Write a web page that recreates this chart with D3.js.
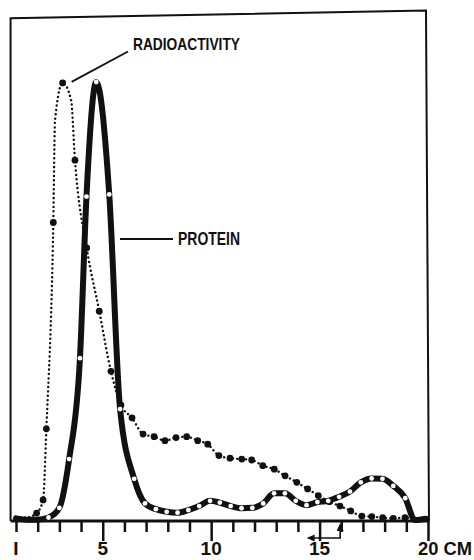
<!DOCTYPE html>
<html>
<head>
<meta charset="utf-8">
<script src="https://cdn.jsdelivr.net/npm/d3@7"></script>
<style>
  html, body { margin: 0; padding: 0; background: #fff; }
  svg { display: block; }
  text { font-family: "Liberation Sans Narrow", "Liberation Sans", sans-serif; font-weight: bold; fill: #111; }
</style>
</head>
<body>
<div id="chart"></div>
<script>
// distance along the column (cm) and relative amounts (peak = 100)
var proteinCm = [1.0, 1.5, 1.95, 2.5, 3.0, 3.45, 3.95, 4.25, 4.7, 5.3, 5.8, 6.45, 6.95, 7.45, 7.95, 8.45,
  8.95, 9.45, 9.95, 10.4, 10.9, 11.4, 11.9, 12.4, 12.9, 13.4, 13.9, 14.4, 14.9, 15.4, 15.9, 16.4,
  16.9, 17.4, 17.9, 18.4, 18.95, 19.4, 19.9];
var proteinValues = [0.6, 0.3, 0.3, 0.8, 3.0, 14.1, 37.1, 73.9, 100, 74.4, 25.5, 9.6, 4.0, 2.7, 2.1, 1.9,
  2.5, 3.4, 4.6, 4.2, 3.4, 2.9, 3.0, 4.0, 6.3, 6.3, 4.6, 3.6, 4.3, 4.6, 5.5, 6.7,
  8.8, 9.7, 9.6, 8.0, 5.2, 0.2, 0.5];
var proteinUnmarked = [0, 1, 2, 37, 38];

var radioCm = [1.0, 1.5, 1.95, 2.25, 2.4, 2.72, 2.8, 3.15, 3.54, 3.72, 4.26, 4.84, 5.38, 5.84, 6.35, 6.86, 7.37,
  7.87, 8.38, 8.87, 9.38, 9.84, 10.36, 10.87, 11.41, 11.87, 12.38, 12.91, 13.41, 13.95, 14.45,
  14.94, 15.45, 15.94, 16.44, 16.95, 17.41, 17.91, 18.4, 18.94, 19.3];
var radioValues = [0.8, 0.8, 1.8, 4.8, 21, 68, 91.3, 99.8, 95.9, 82.2, 62.2, 47.8, 34.1, 26.4, 23.5, 19.8, 19.2,
  18.3, 19.0, 19.2, 18.3, 17.5, 14.9, 14.3, 14.1, 13.9, 12.6, 11.8, 10.3, 8.8, 7.3,
  5.8, 4.4, 3.4, 2.3, 1.1, 1.0, 0.75, 0.6, 0.75, 0.5];
var radioUnmarked = [0, 1, 6, 8, 40];

var tickCm = d3.range(1, 21);
var labelCm = [1, 5, 10, 15, 20];

var width = 474, height = 560;

var svg = d3.select("#chart").append("svg")
  .attr("width", width).attr("height", height);

var x = d3.scaleLinear().domain([1, 20]).range([16, 428]);
var y = d3.scaleLinear().domain([0, 100]).range([521, 82]);

var protein = proteinCm.map(function (d, i) { return [d, proteinValues[i]]; });
var radio = radioCm.map(function (d, i) { return [d, radioValues[i]]; });

// frame (slightly skewed, like the scanned original)
svg.append("path")
  .attr("d", "M" + x(0.75) + "," + y(0) + "L" + x(0.75) + "," + y(114.5) +
    "L" + (x(20) - 2) + "," + y(116.3) + "L" + (x(20) + 1) + "," + y(0))
  .attr("fill", "none").attr("stroke", "#111").attr("stroke-width", 2);

// axis
var axis = d3.axisBottom(x)
  .tickValues(tickCm)
  .tickSize(11)
  .tickFormat("");

var gAxis = svg.append("g")
  .attr("transform", "translate(0," + y(0) + ")")
  .call(axis);

gAxis.select(".domain")
  .attr("d", "M" + x(0.75) + ",0H" + (x(20) + 1))
  .attr("stroke", "#111").attr("stroke-width", 3);

gAxis.selectAll(".tick line")
  .attr("stroke", "#111").attr("stroke-width", 2.5)
  .attr("y2", function (d) { return d % 5 === 0 ? 20 : 11; });

svg.selectAll(".xlab")
  .data(labelCm).enter()
  .append("text")
  .attr("class", "xlab")
  .attr("x", function (d) { return d === 20 ? x(d) - 10 : x(d); })
  .attr("y", 555)
  .attr("text-anchor", function (d) { return d === 20 ? "start" : "middle"; })
  .attr("textLength", function (d) { return d === 20 ? 54 : null; })
  .attr("lengthAdjust", "spacingAndGlyphs")
  .style("font-size", "19px")
  .text(function (d) { return d === 1 ? "I" : d === 20 ? "20 CM" : d; });

// small L-shaped arrow under the axis near 15-16 cm
svg.append("path")
  .attr("d", "M" + x(14.5) + "," + 538 + "H" + x(15.95) + "V" + (y(0) + 4))
  .attr("fill", "none").attr("stroke", "#111").attr("stroke-width", 1.6);
svg.append("path")
  .attr("d", "M" + (x(14.45) - 1) + ",538l8,-3.5v7z")
  .attr("fill", "#111");
svg.append("path")
  .attr("d", "M" + x(15.95) + "," + (y(0) + 2) + "l-3.5,8h7z")
  .attr("fill", "#111");

var line = d3.line()
  .x(function (d) { return x(d[0]); })
  .y(function (d) { return y(d[1]); })
  .curve(d3.curveMonotoneX);

// radioactivity: dotted line with filled dots
svg.append("path")
  .datum(radio)
  .attr("d", line)
  .attr("fill", "none")
  .attr("stroke", "#111")
  .attr("stroke-width", 2.4)
  .attr("stroke-linecap", "round")
  .attr("stroke-dasharray", "0.1 4.3");

svg.selectAll(".rdot")
  .data(radio.filter(function (d, i) { return radioUnmarked.indexOf(i) < 0; })).enter()
  .append("circle")
  .attr("class", "rdot")
  .attr("cx", function (d) { return x(d[0]); })
  .attr("cy", function (d) { return y(d[1]); })
  .attr("r", 3.4)
  .attr("fill", "#111");

// protein: heavy line with open circles
svg.append("path")
  .datum(protein)
  .attr("d", line)
  .attr("fill", "none")
  .attr("stroke", "#111")
  .attr("stroke-width", 6)
  .attr("stroke-linejoin", "round")
  .attr("stroke-linecap", "round");

svg.selectAll(".pdot")
  .data(protein.filter(function (d, i) { return proteinUnmarked.indexOf(i) < 0; })).enter()
  .append("circle")
  .attr("class", "pdot")
  .attr("cx", function (d) { return x(d[0]); })
  .attr("cy", function (d) { return y(d[1]); })
  .attr("r", 2.4)
  .attr("fill", "#fff");

// labels with leader lines
svg.append("line")
  .attr("x1", x(3.15) + 9).attr("y1", y(99.8) - 1)
  .attr("x2", 128).attr("y2", 51.5)
  .attr("stroke", "#111").attr("stroke-width", 1.8);
svg.append("text")
  .attr("x", 133).attr("y", 50)
  .attr("textLength", 107).attr("lengthAdjust", "spacingAndGlyphs")
  .style("font-size", "17px")
  .text("RADIOACTIVITY");

svg.append("line")
  .attr("x1", 120).attr("y1", 239)
  .attr("x2", 173).attr("y2", 239)
  .attr("stroke", "#111").attr("stroke-width", 1.8);
svg.append("text")
  .attr("x", 178).attr("y", 245)
  .attr("textLength", 62).attr("lengthAdjust", "spacingAndGlyphs")
  .style("font-size", "18px")
  .text("PROTEIN");
</script>
</body>
</html>
